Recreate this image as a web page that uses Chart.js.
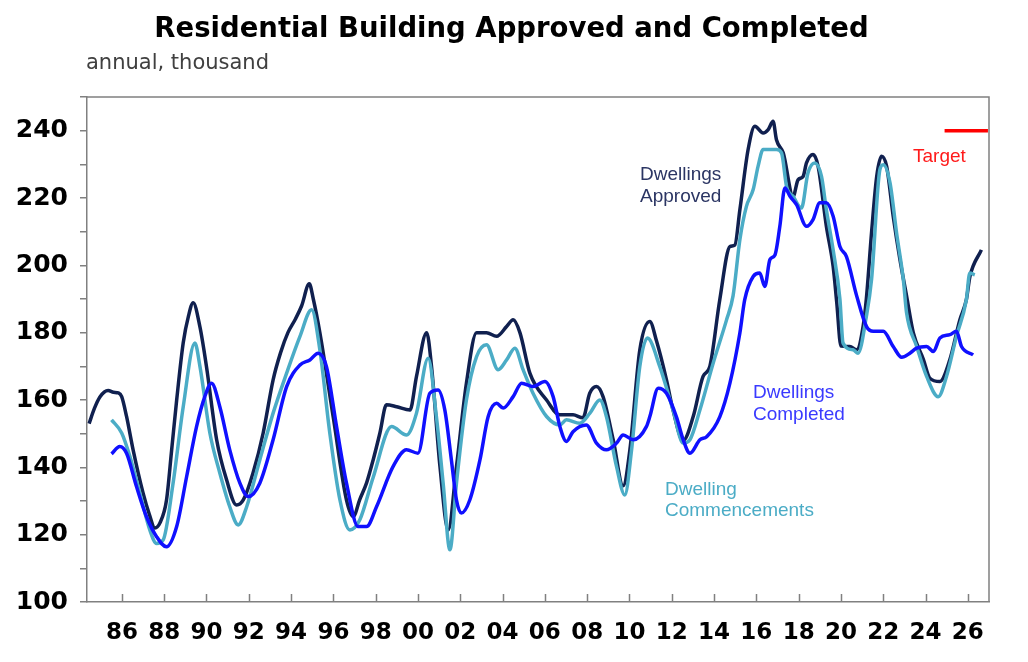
<!DOCTYPE html>
<html>
<head>
<meta charset="utf-8">
<script src="https://cdn.jsdelivr.net/npm/chart.js@4.4.1/dist/chart.umd.min.js"></script>
<style>
html,body{margin:0;padding:0;background:#ffffff;}
#wrap{width:1028px;height:662px;position:relative;}
</style>
</head>
<body>
<div id="wrap"><canvas id="c" width="1028" height="662"></canvas></div>
<script>
// ---- Data (annual, thousand) ----
const tickYears = [1986,1988,1990,1992,1994,1996,1998,2000,2002,2004,2006,2008,2010,2012,2014,2016,2018,2020,2022,2024,2026];

const approvedYears = [1984.45,1984.7,1984.96,1985.35,1985.6,1985.83,1985.99,1986.22,1986.53,1987.0,1987.3,1987.56,1987.8,1988.11,1988.35,1988.59,1988.9,1989.15,1989.37,1989.69,1990.0,1990.48,1990.95,1991.42,1991.74,1992.2,1992.68,1993.15,1993.5,1993.85,1994.2,1994.5,1994.86,1995.05,1995.36,1995.99,1996.62,1996.94,1997.25,1997.57,1997.88,1998.2,1998.51,1998.99,1999.62,1999.93,2000.41,2000.64,2001.04,2001.43,2001.82,2002.29,2002.77,2003.24,2003.72,2004.19,2004.5,2004.82,2005.29,2006.08,2006.7,2007.33,2007.8,2008.12,2008.44,2008.75,2009.23,2009.7,2010.02,2010.49,2010.96,2011.28,2011.75,2012.06,2012.54,2013.01,2013.48,2013.8,2014.27,2014.75,2014.98,2015.22,2015.61,2015.93,2016.32,2016.56,2016.79,2016.95,2017.27,2017.74,2017.97,2018.21,2018.37,2018.68,2018.92,2019.31,2019.63,2019.8,2020.0,2020.42,2020.74,2021.05,2021.2,2021.45,2021.69,2021.92,2022.16,2022.47,2022.79,2023.1,2023.42,2023.9,2024.2,2024.68,2025.15,2025.62,2025.93,2026.1,2026.64];
const approvedValues = [153,157.5,160.9,162.8,162.3,162.1,161,155.1,145.2,132.4,126,122,123.5,130.3,145,160,177,185,188.9,181.7,169.9,148.2,136.3,128.8,130.3,138.3,150.2,166,174,180,184,188,194.5,190,180,155,130.3,125.4,130.5,135.4,142.2,150.2,158.6,158,157,167,180,170,140.2,121.4,140.2,165,180,180,178.9,181.8,183.8,180,168,160,155.6,155.6,154.7,162,164,161,148.2,134.5,145.2,174.9,183.3,177.5,166,157,148,155,167,170,189.8,205.6,206,216.5,234.4,241.3,239.3,240.3,242.8,237.3,233.4,220.5,225.4,226.4,230.4,232.9,229.4,211.6,199.7,189,176,175.9,174.9,182,190,210,226.4,232.4,229.4,214.6,201.7,191,180,172,166.5,165.5,172,183.8,189.8,196.7,204.6];

const commencementYears = [1985.51,1985.99,1986.38,1986.85,1987.32,1987.64,1987.95,1988.42,1988.9,1989.45,1989.69,1990.16,1990.63,1991.1,1991.5,1991.9,1992.52,1993.15,1993.79,1994.42,1994.97,1995.36,1995.83,1996.31,1996.78,1997.25,1997.88,1998.75,1999.46,1999.93,2000.48,2000.87,2001.19,2001.51,2001.82,2002.29,2002.77,2003.24,2003.79,2004.19,2004.58,2004.97,2005.44,2006.08,2006.71,2007.02,2007.65,2008.13,2008.6,2008.91,2009.39,2009.78,2010.1,2010.49,2010.85,2011.43,2012.06,2012.54,2012.86,2013.33,2013.96,2014.59,2014.9,2015.22,2015.53,2015.85,2016.08,2016.32,2016.64,2016.95,2017.19,2017.43,2017.74,2018.13,2018.44,2018.76,2019.08,2019.31,2019.63,2019.95,2020.1,2020.57,2020.81,2021.2,2021.45,2021.84,2022.0,2022.32,2022.63,2022.95,2023.1,2023.58,2024.05,2024.6,2024.99,2025.46,2025.93,2026.09,2026.33];
const commencementValues = [154.1,150.2,143.2,132.3,121.4,117.4,118.4,135.3,158,176.9,170,150.2,138.3,128.3,122.9,128.3,142.2,156.1,168,178.9,186.8,174.9,150.2,130.3,121.4,124.4,137,152.1,149.6,156.1,172.4,155.1,135.3,115.5,135.3,160,172.9,176.4,169,171.9,175.4,169,162,155.1,152.6,154.1,153.1,156.1,160,155.1,140.2,131.8,145.2,170,178.4,170,157,147.2,148.2,157,171,183.8,191,207.6,217.5,222.5,229.4,234.4,234.4,234.4,233.4,223.4,220.5,217,227.4,230.4,226.4,216.5,204.6,190,176.9,174.9,173.9,184.8,196,228.4,229.9,224.5,209.6,195.7,186,175.9,167,161,167,178.9,189.8,197.7,197.2];

const completedYears = [1985.51,1985.9,1986.22,1986.69,1987.16,1987.64,1988.11,1988.59,1989.06,1989.53,1989.92,1990.24,1990.63,1991.1,1991.58,1991.97,1992.52,1993.15,1993.79,1994.42,1994.89,1995.28,1995.67,1996.15,1996.62,1997.17,1997.57,1998.04,1998.82,1999.46,2000.0,2000.56,2000.95,2001.27,2001.58,2001.82,2002.05,2002.45,2002.93,2003.32,2003.72,2004.03,2004.5,2004.9,2005.44,2006.0,2006.39,2006.71,2007.02,2007.33,2007.96,2008.44,2008.91,2009.39,2009.7,2010.18,2010.8,2010.96,2011.36,2011.75,2012.22,2012.54,2012.86,2013.33,2013.65,2014.27,2014.75,2015.22,2015.45,2015.85,2016.16,2016.4,2016.64,2016.88,2017.11,2017.35,2017.59,2017.9,2018.37,2018.68,2019.0,2019.31,2019.63,2019.95,2020.26,2020.74,2021.21,2021.53,2022.0,2022.47,2022.87,2023.26,2023.58,2024.05,2024.37,2024.68,2025.15,2025.46,2025.7,2026.25];
const completedValues = [144,146.2,144.2,134.3,125.4,119.4,116.4,122.4,137.2,152.1,161,165,158,145.2,135.3,131.3,135.3,148.2,164,170.4,171.9,173.9,170,152.1,135.3,122.4,122.4,128.3,140.2,145.2,144.2,162,163,157,142.2,130.3,126.4,130.3,142.2,155.1,159,157.6,161,165,164,165.5,161,152.1,147.7,150.6,152.6,147.2,145.2,147.2,149.6,148.2,152.1,155,163.5,162,155,148.2,144.2,148.2,149.1,155,165,179.9,189.8,196.7,197.7,193.7,201.7,203.1,211.6,223,220.5,218,211.6,213.6,218.6,218.6,214.6,205.6,202.6,191,181.8,180.4,180.4,175.9,172.7,173.9,175.4,175.9,174.4,178.4,179.4,180.4,175.9,173.4];

const targetYears = [2024.9, 2026.95];
const targetValues = [240, 240];

const seriesNames = ['Dwellings Approved', 'Dwelling Commencements', 'Dwellings Completed', 'Target'];

const toPts = (xs, ys) => xs.map((x, i) => ({ x: x, y: ys[i] }));

// ---- Decorations plugin: frame, inward x ticks, subtitle, inline labels ----
const AXIS_GREY = '#808080';
const decor = {
  id: 'decor',
  afterDatasetsDraw(chart) {
    const { ctx, chartArea: a, scales } = chart;
    ctx.save();
    ctx.strokeStyle = AXIS_GREY;
    ctx.lineWidth = 1.5;
    ctx.beginPath();
    ctx.moveTo(a.left, a.top); ctx.lineTo(a.right, a.top); ctx.lineTo(a.right, a.bottom);
    ctx.stroke();
    // inward x ticks
    ctx.beginPath();
    tickYears.forEach(v => {
      const px = Math.round(scales.x.getPixelForValue(v)) + 0.5;
      ctx.moveTo(px, a.bottom); ctx.lineTo(px, a.bottom - 8);
    });
    ctx.stroke();
    ctx.restore();
  },
  afterDraw(chart) {
    const { ctx } = chart;
    ctx.save();
    ctx.textAlign = 'left';
    ctx.textBaseline = 'alphabetic';
    ctx.fillStyle = '#404040';
    ctx.font = '21px "DejaVu Sans"';
    ctx.fillText('annual, thousand', 86, 69);
    ctx.font = '19px "Liberation Sans", Arial, sans-serif';
    ctx.fillStyle = '#2b3563';
    ctx.fillText('Dwellings', 640, 180);
    ctx.fillText('Approved', 640, 202);
    ctx.fillStyle = '#3a3aff';
    ctx.fillText('Dwellings', 753, 398);
    ctx.fillText('Completed', 753, 420);
    ctx.fillStyle = '#4bacc6';
    ctx.fillText('Dwelling', 665, 495);
    ctx.fillText('Commencements', 665, 516);
    ctx.fillStyle = '#ff1a1a';
    ctx.fillText('Target', 913, 162);
    ctx.restore();
  }
};

const ctx = document.getElementById('c').getContext('2d');
new Chart(ctx, {
  type: 'line',
  data: {
    datasets: [
      { label: seriesNames[3], data: toPts(targetYears, targetValues), borderColor: '#ff0000', borderWidth: 3.5, pointRadius: 0, tension: 0 },
      { label: seriesNames[2], data: toPts(completedYears, completedValues), borderColor: '#1010ff', borderWidth: 3.5, pointRadius: 0, tension: 0.3, cubicInterpolationMode: 'monotone' },
      { label: seriesNames[1], data: toPts(commencementYears, commencementValues), borderColor: '#4bacc6', borderWidth: 3.5, pointRadius: 0, tension: 0.3, cubicInterpolationMode: 'monotone' },
      { label: seriesNames[0], data: toPts(approvedYears, approvedValues), borderColor: '#10204f', borderWidth: 3.5, pointRadius: 0, tension: 0.3, cubicInterpolationMode: 'monotone' }
    ]
  },
  options: {
    responsive: false,
    animation: false,
    devicePixelRatio: 1,
    layout: { padding: { top: 0, right: 5, bottom: 0, left: 0 } },
    plugins: {
      legend: { display: false },
      tooltip: { enabled: false },
      title: {
        display: true,
        text: 'Residential Building Approved and Completed',
        color: '#000000',
        font: { family: '"DejaVu Sans"', size: 27.5, weight: 'bold' },
        padding: { top: 13, bottom: 51 }
      }
    },
    scales: {
      x: {
        type: 'linear',
        min: 1984.35,
        max: 2027.0,
        afterBuildTicks: s => { s.ticks = tickYears.map(v => ({ value: v })); },
        afterFit: s => { s.height = 60; },
        border: { display: true, color: AXIS_GREY, width: 1.5 },
        grid: { display: true, drawOnChartArea: false, drawTicks: false },
        ticks: {
          autoSkip: false,
          maxRotation: 0,
          padding: 17,
          color: '#000000',
          font: { family: '"DejaVu Sans"', size: 23, weight: 'bold' },
          callback: v => String(Math.round(v) % 100).padStart(2, '0')
        }
      },
      y: {
        min: 100,
        max: 250,
        afterFit: s => { s.width = 87; },
        border: { display: true, color: AXIS_GREY, width: 1.5 },
        grid: { display: true, drawOnChartArea: false, drawTicks: true, tickLength: 7, color: AXIS_GREY, lineWidth: 1.5 },
        ticks: {
          stepSize: 10,
          padding: 12,
          color: '#000000',
          font: { family: '"DejaVu Sans"', size: 25, weight: 'bold' },
          callback: v => (v % 20 === 0 && v <= 240) ? String(v) : ''
        }
      },
      ySpacer: {
        type: 'linear',
        position: 'right',
        min: 100,
        max: 250,
        afterFit: s => { s.width = 34; },
        border: { display: false },
        grid: { display: false, drawOnChartArea: false, drawTicks: false },
        ticks: { display: false }
      }
    }
  },
  plugins: [decor]
});
</script>
</body>
</html>
